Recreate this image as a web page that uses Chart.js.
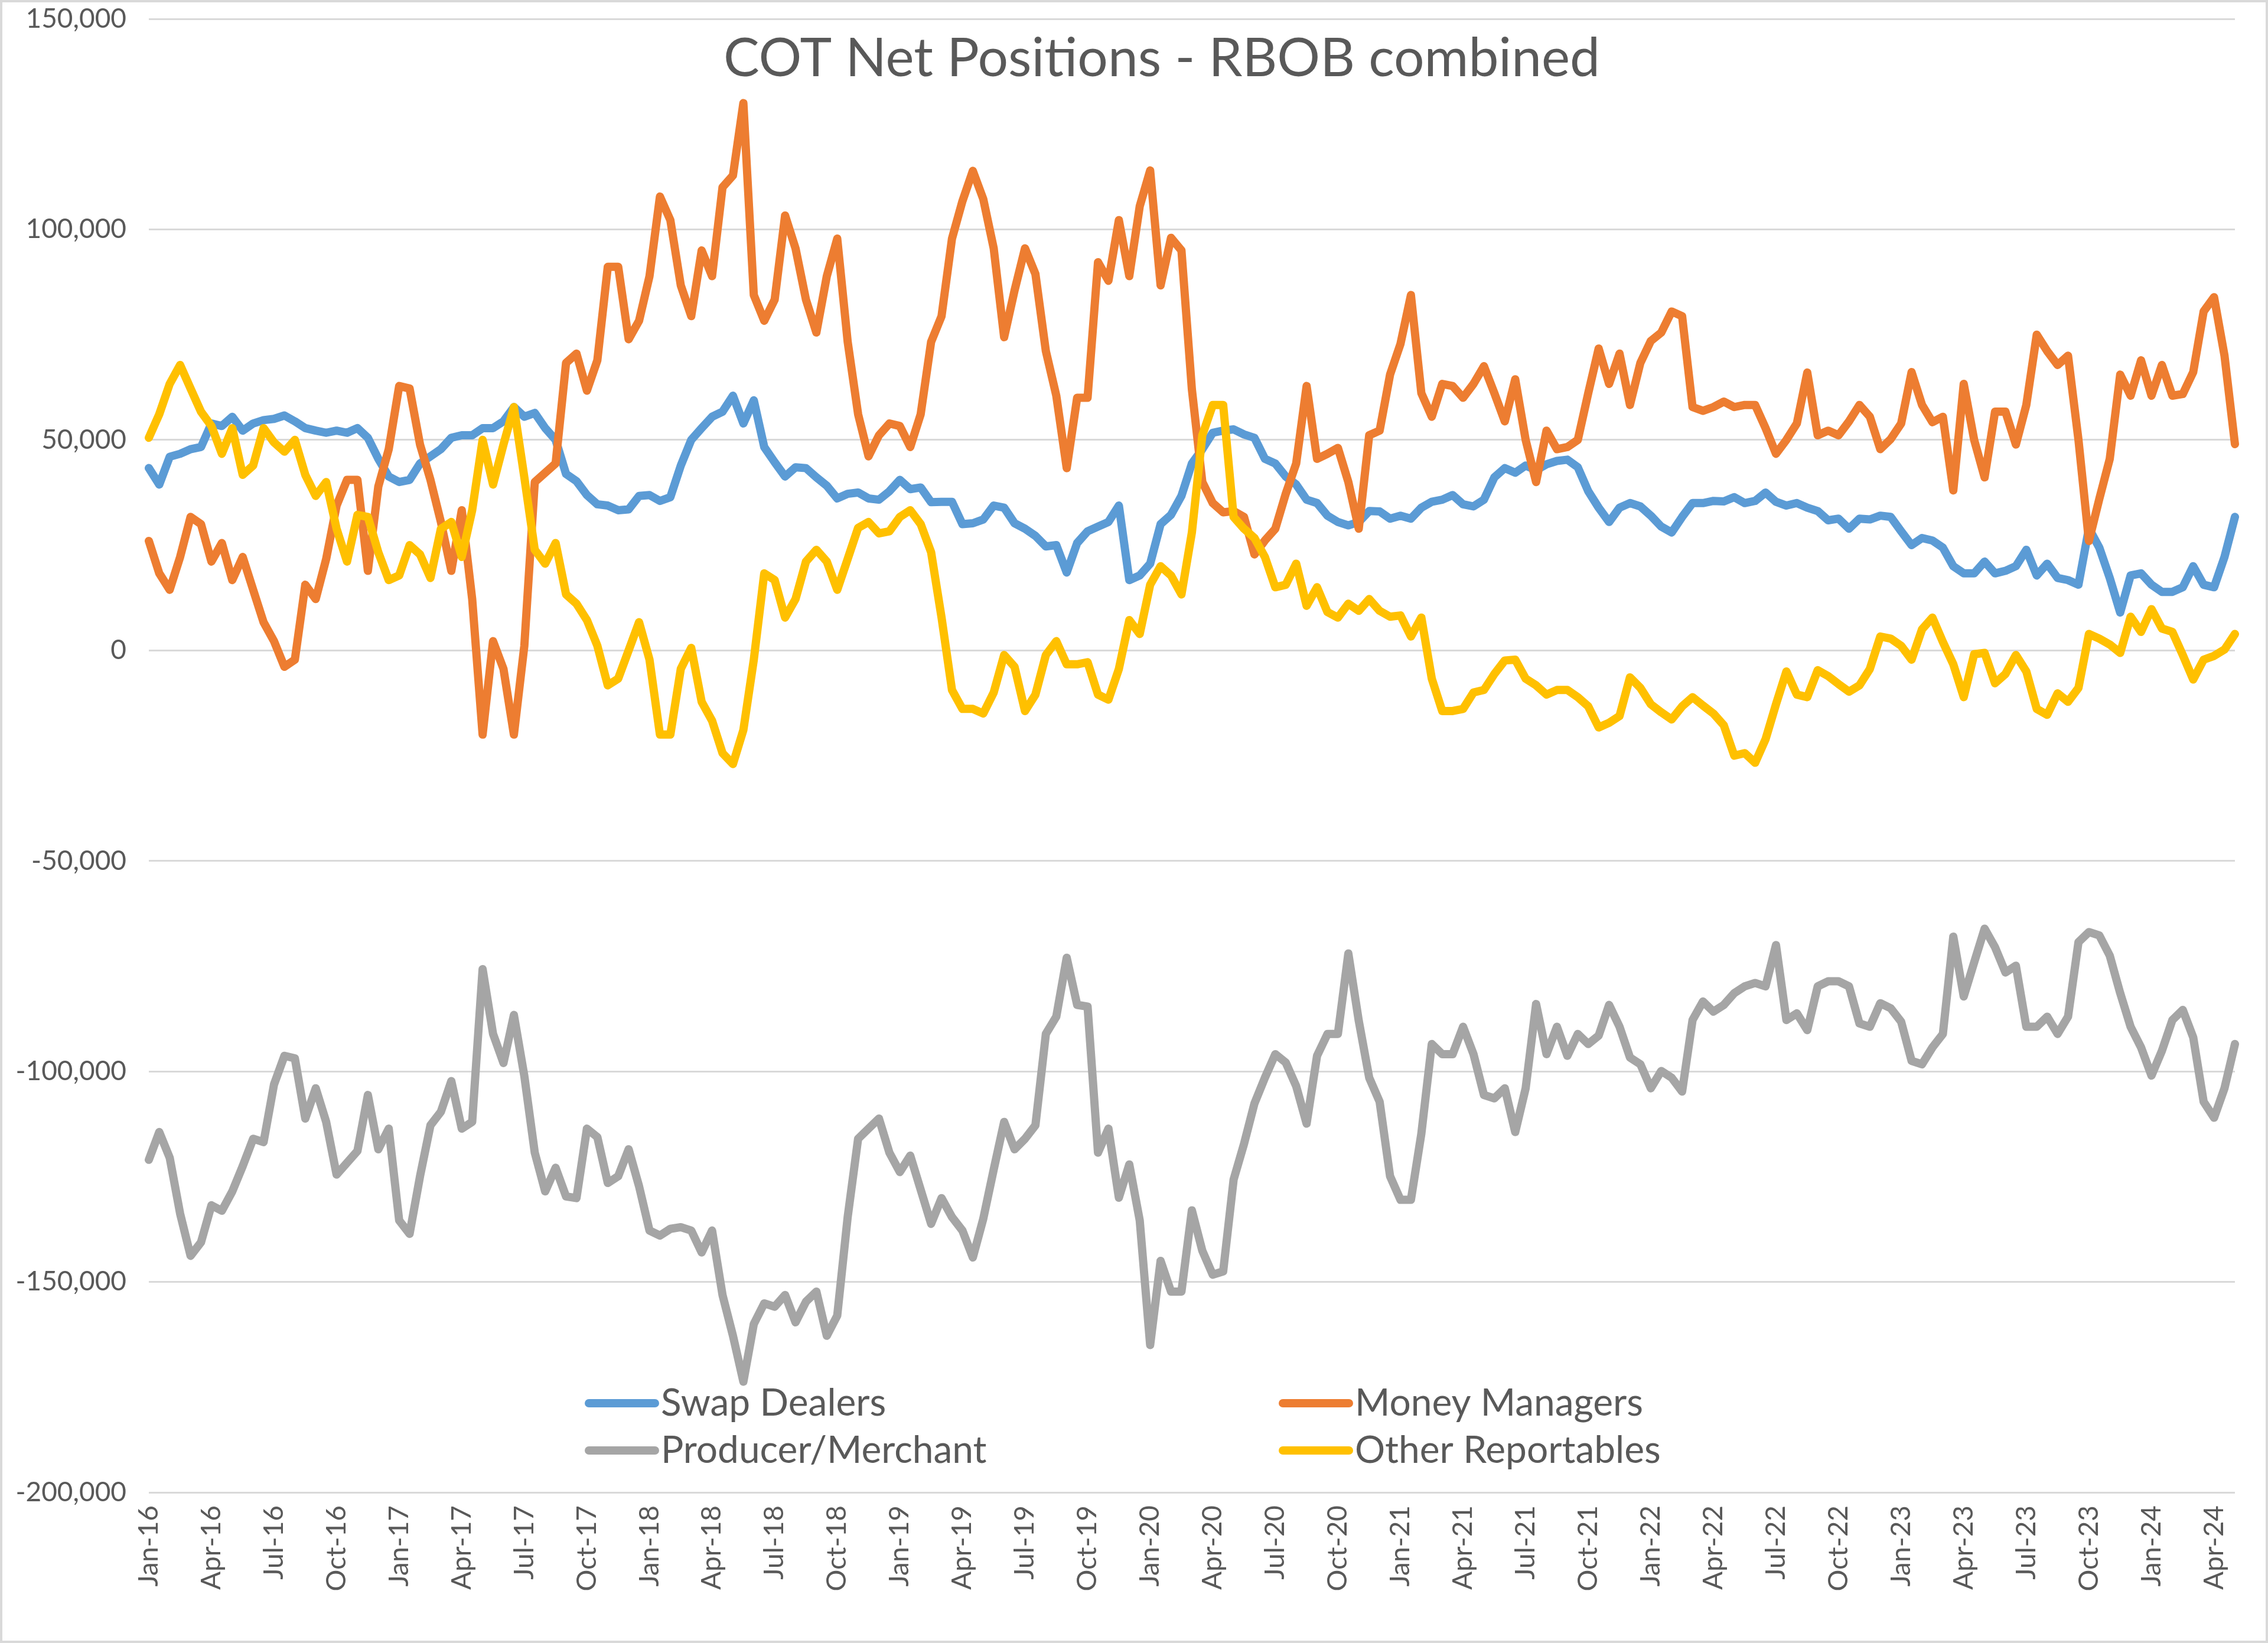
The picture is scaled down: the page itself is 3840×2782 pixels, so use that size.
<!DOCTYPE html>
<html>
<head>
<meta charset="utf-8">
<title>COT Net Positions - RBOB combined</title>
<script src="https://cdn.jsdelivr.net/npm/chart.js@4/dist/chart.umd.min.js"></script>
<style>
  html, body { margin: 0; padding: 0; background: #ffffff; }
  canvas { display: block; }
</style>
</head>
<body>
<canvas id="cotChart" width="3840" height="2782"></canvas>
<script>
// COT net positions, RBOB combined - values in thousands of contracts,
// one reading every half month from Jan-16 to end of May-24
const swapDealers = [
  43.3, 39.4, 46, 46.7, 47.8, 48.3, 53.9, 53.3, 55.5, 52.2, 53.9, 54.7, 55, 55.8, 54.4, 52.8, 52.2, 51.7, 52.2, 51.7,
  52.8, 50.5, 45.5, 41.3, 40, 40.5, 44.4, 46.1, 47.8, 50.5, 51.1, 51.1, 52.8, 52.8, 54.4, 57.8, 55.5, 56.4, 52.8, 50,
  41.9, 40.2, 36.9, 34.7, 34.4, 33.3, 33.5, 36.7, 36.9, 35.5, 36.4, 43.9, 50, 52.8, 55.5, 56.7, 60.5, 53.9, 59.4, 48.3,
  44.7, 41.3, 43.5, 43.3, 41.1, 39.1, 36.1, 37.2, 37.5, 36.1, 35.8, 37.8, 40.5, 38.3, 38.7, 35.2, 35.3, 35.3, 30, 30.2,
  31.1, 34.4, 33.9, 30.2, 28.9, 27.2, 24.7, 25, 18.5, 25.5, 28.3, 29.4, 30.5, 34.4, 16.7, 17.8, 20.6, 30, 32.2, 36.7,
  44.4, 47.8, 51.7, 52.2, 52.5, 51.3, 50.5, 45.5, 44.4, 41.3, 39.4, 35.8, 35, 32, 30.5, 29.7, 30.5, 33.1, 33, 31.3,
  32, 31.3, 33.9, 35.3, 35.8, 36.9, 34.7, 34.2, 35.8, 41.1, 43.3, 42.2, 43.9, 42.8, 44.2, 45, 45.3, 43.5, 37.8, 33.9,
  30.5, 33.9, 35, 34.2, 32, 29.4, 28, 31.7, 35, 35, 35.5, 35.4, 36.4, 35, 35.5, 37.5, 35.3, 34.4, 35, 33.9,
  33.1, 30.9, 31.3, 28.9, 31.3, 31.1, 32, 31.7, 28.3, 25, 26.7, 26.1, 24.4, 20, 18.3, 18.3, 21.1, 18.3, 18.9, 20,
  23.9, 17.8, 20.6, 17.2, 16.7, 15.6, 29, 24.4, 17.2, 9, 17.8, 18.3, 15.6, 13.9, 13.9, 15, 20, 15.6, 15, 22.2,
  31.7
];
const moneyManagers = [
  26, 18.3, 14.4, 22.2, 31.7, 30, 21.1, 25.5, 16.7, 22.2, 14.4, 6.7, 2.2, -3.9, -2.2, 15.6, 12.2, 21.7, 34.4, 40.5,
  40.5, 18.9, 38.9, 47.8, 62.8, 62.2, 48.9, 40.5, 30.5, 18.9, 33.3, 12.2, -20, 2.2, -4.4, -20, 1.1, 40, 42.2, 44.4,
  68.3, 70.5, 61.7, 68.9, 91.1, 91.1, 73.9, 78.3, 88.9, 107.8, 102.2, 86.7, 79.4, 95, 88.9, 110, 112.8, 130, 84.4, 78.3,
  83.3, 103.3, 95.5, 83.3, 75.5, 88.9, 97.8, 73.3, 56.1, 46.1, 51.1, 53.9, 53.3, 48.3, 56.1, 73.3, 79.4, 97.8, 106.7, 113.9,
  107.2, 95.5, 74.4, 85.5, 95.5, 89.4, 71.1, 60.5, 43.3, 60, 60, 92.2, 87.8, 102.2, 88.9, 105.5, 114, 86.7, 98, 95,
  62, 40, 35, 32.8, 33.1, 31.7, 22.8, 26.1, 28.9, 37.2, 44.4, 62.8, 45.5, 46.7, 48.1, 40, 28.9, 51.1, 52.2, 65.5,
  72.8, 84.4, 61.1, 55.5, 63.3, 62.8, 60, 63.3, 67.5, 61.1, 54.4, 64.4, 50, 40, 52.2, 47.8, 48.3, 50, 61.1, 71.7,
  63.3, 70.5, 58.3, 68.3, 73.5, 75.5, 80.5, 79.4, 57.8, 56.9, 57.8, 59.1, 57.8, 58.3, 58.3, 52.8, 46.7, 50, 53.9, 66,
  51.1, 52.2, 51.1, 54.4, 58.3, 55.5, 47.8, 50.2, 53.9, 66.1, 58.3, 54.2, 55.5, 38, 63.3, 50, 41.1, 56.7, 56.7, 48.9,
  58.3, 75, 71.1, 67.8, 70, 50, 26, 36, 45.5, 65.5, 60.5, 68.9, 60.5, 67.8, 60.5, 60.9, 66.1, 80.5, 83.9, 70,
  49
];
const producerMerchant = [
  -121, -114.4, -120.5, -133.8, -143.8, -140.6, -131.8, -133.1, -128.5, -122.5, -116, -116.8, -103.1, -96.3, -96.9, -111.2, -104, -112, -124.5, -121.7,
  -118.9, -105.6, -118.5, -113.6, -135.4, -138.6, -124.9, -112.8, -109.6, -102.3, -113.6, -112, -75.7, -91.1, -98, -86.6, -101.1, -119.3, -128.5, -122.9,
  -129.7, -130.1, -113.6, -115.6, -126.5, -124.9, -118.5, -127.3, -137.8, -139, -137.4, -137, -137.8, -143, -137.8, -153.1, -162.8, -173.7, -160, -155.1,
  -155.9, -153.1, -159.6, -154.7, -152.3, -162.8, -158, -134.6, -116, -113.6, -111.2, -119.3, -123.9, -120, -128.1, -136.2, -130.1, -134.6, -137.8, -144.2,
  -135, -123.3, -112, -118.5, -116, -112.8, -91.1, -87, -73, -84.2, -84.6, -119.3, -113.6, -130, -122.1, -135.4, -165, -145, -152.3, -152.3,
  -133, -142.6, -148.3, -147.5, -125.7, -117.2, -107.6, -101.5, -95.9, -97.9, -103.5, -112.4, -96.3, -91.1, -91.1, -72, -88, -101.5, -107.2, -124.9,
  -130.5, -130.5, -114.8, -93.5, -95.9, -95.9, -89.4, -95.9, -105.6, -106.4, -104, -114.4, -104, -84, -95.9, -89.4, -96.3, -91.1, -93.5, -91.5,
  -84.2, -89.4, -96.7, -98.3, -104, -99.9, -101.5, -104.8, -87.8, -83.4, -85.8, -84.2, -81.4, -79.8, -79, -79.8, -70, -87.8, -86.2, -90.2,
  -79.8, -78.6, -78.6, -79.8, -88.6, -89.4, -83.8, -85, -88.2, -97.5, -98.3, -94.3, -91.1, -68, -82.2, -74.1, -66.1, -70.5, -76.5, -74.9,
  -89.4, -89.4, -87, -91.1, -87, -69.3, -66.9, -67.7, -72.5, -81.4, -89.4, -94.3, -101, -95.1, -87.8, -85.4, -91.9, -107.2, -111, -104,
  -93.5
];
const otherReportables = [
  50.5, 56.1, 63.3, 67.8, 62.2, 56.7, 53.3, 46.7, 52.8, 41.7, 43.9, 52.8, 49.4, 47.2, 50, 41.7, 36.7, 40, 28.9, 21.1,
  32.2, 31.7, 23.3, 16.7, 17.8, 25, 22.8, 17.2, 28.9, 30.5, 22.2, 33.3, 50, 39.4, 48.9, 57.8, 41.1, 23.9, 20.6, 25.5,
  13.3, 11.1, 7.2, 1.1, -8.3, -6.7, 0, 6.7, -2.2, -20, -20, -4.4, 0.6, -12.2, -16.7, -24.4, -27, -18.9, -2.2, 18.3,
  16.7, 7.8, 12.2, 21.1, 23.9, 21.1, 14.4, 21.7, 29.1, 30.5, 27.8, 28.3, 31.7, 33.3, 30, 23.3, 7.8, -9.4, -13.9, -13.9,
  -15, -10, -1.1, -3.9, -14.4, -10.5, -1.1, 2.2, -3.3, -3.3, -2.8, -10.5, -11.7, -4.4, 7.2, 3.9, 15.6, 20, 17.8, 13.3,
  28, 51.1, 58.3, 58.3, 31.7, 28.9, 26.7, 22.2, 15, 15.6, 20.6, 10.6, 15, 9.1, 7.8, 11.1, 9.4, 12.2, 9.4, 8,
  8.3, 3.3, 7.8, -6.7, -14.4, -14.4, -13.9, -10, -9.4, -5.6, -2.4, -2.2, -6.7, -8.3, -10.5, -9.4, -9.4, -11.1, -13.3, -18.3,
  -17.2, -15.6, -6.4, -8.9, -12.8, -14.7, -16.4, -13.3, -11.1, -13.1, -15, -17.8, -25, -24.4, -26.7, -21.1, -12.8, -5, -10.5, -11.1,
  -4.7, -6.1, -8, -9.8, -8.3, -4.4, 3.3, 2.8, 1.1, -2.2, 5, 7.8, 2, -3.3, -11.1, -0.9, -0.6, -7.8, -5.6, -1.1,
  -5, -13.9, -15.3, -10.2, -12.2, -8.9, 3.9, 2.8, 1.4, -0.6, 8, 4.4, 9.8, 5.2, 4.4, -1.1, -6.9, -2.2, -1.3, 0.2,
  3.9
];

// quarterly axis labels, one every 6 half-month readings
const tickLabels = [
  'Jan-16', 'Apr-16', 'Jul-16', 'Oct-16', 'Jan-17', 'Apr-17', 'Jul-17', 'Oct-17', 'Jan-18', 'Apr-18', 'Jul-18', 'Oct-18',
  'Jan-19', 'Apr-19', 'Jul-19', 'Oct-19', 'Jan-20', 'Apr-20', 'Jul-20', 'Oct-20', 'Jan-21', 'Apr-21', 'Jul-21', 'Oct-21',
  'Jan-22', 'Apr-22', 'Jul-22', 'Oct-22', 'Jan-23', 'Apr-23', 'Jul-23', 'Oct-23', 'Jan-24', 'Apr-24'
];
const seriesNames = ['Swap Dealers', 'Money Managers', 'Producer/Merchant', 'Other Reportables'];
const seriesColors = ['#5b9bd5', '#ed7d31', '#a5a5a5', '#ffc000'];

// half-month periods: 1st and 16th of each month
const periods = swapDealers.map((_, i) => {
    const month = Math.floor(i / 2);
    const d = new Date(2016, month, i % 2 === 0 ? 1 : 16);
    return d.toISOString().slice(0, 10);
});

const W = 3840, H = 2782;
const plotBox = { left: 252, right: 3784, top: 32, bottom: 2527 };
const textColor = '#595959';
const fontFamily = 'Lato, "Open Sans", sans-serif';
const lineWidth = 14;

// title, legend and outer frame drawn on the canvas like the Excel chart
const excelFrame = {
    id: 'excelFrame',
    beforeDraw(chart) {
        const ctx = chart.ctx;
        ctx.save();
        ctx.fillStyle = '#ffffff';
        ctx.fillRect(0, 0, W, H);
        ctx.restore();
    },
    afterDraw(chart) {
        const ctx = chart.ctx;
        ctx.save();

        // chart border
        ctx.strokeStyle = '#d9d9d9';
        ctx.lineWidth = 4;
        ctx.strokeRect(2, 2, W - 4, H - 4);

        // title
        ctx.fillStyle = textColor;
        ctx.font = '91px ' + fontFamily;
        ctx.textAlign = 'center';
        ctx.textBaseline = 'middle';
        ctx.fillText('COT Net Positions - RBOB combined', 1967, 100);

        // legend, two columns
        const spots = [
            { x: 997, y: 2376 }, { x: 2172, y: 2376 },
            { x: 997, y: 2456 }, { x: 2172, y: 2456 }
        ];
        ctx.font = '64px ' + fontFamily;
        ctx.textAlign = 'left';
        chart.data.datasets.forEach((ds, i) => {
            const p = spots[i];
            ctx.strokeStyle = ds.borderColor;
            ctx.lineWidth = lineWidth;
            ctx.lineCap = 'round';
            ctx.beginPath();
            ctx.moveTo(p.x, p.y);
            ctx.lineTo(p.x + 112, p.y);
            ctx.stroke();
            ctx.fillStyle = textColor;
            ctx.fillText(ds.label, p.x + 122, p.y);
        });
        ctx.restore();
    }
};

const allSeries = [swapDealers, moneyManagers, producerMerchant, otherReportables];
// later series sit on top, as in the source chart
const drawOrder = [3, 2, 1, 0];

new Chart(document.getElementById('cotChart'), {
    type: 'line',
    data: {
        labels: periods,
        datasets: allSeries.map((values, i) => ({
            label: seriesNames[i],
            data: values.map(v => v * 1000),
            borderColor: seriesColors[i],
            backgroundColor: seriesColors[i],
            borderWidth: lineWidth,
            borderJoinStyle: 'round',
            borderCapStyle: 'round',
            pointRadius: 0,
            tension: 0,
            order: drawOrder[i]
        }))
    },
    options: {
        responsive: false,
        animation: false,
        devicePixelRatio: 1,
        layout: { padding: { top: plotBox.top, right: W - plotBox.right, bottom: 0, left: 0 } },
        plugins: {
            legend: { display: false },
            title: { display: false },
            tooltip: { enabled: false }
        },
        scales: {
            x: {
                type: 'category',
                offset: false,
                grid: { display: false },
                border: { display: false },
                ticks: {
                    autoSkip: false,
                    minRotation: 90,
                    maxRotation: 90,
                    padding: 14,
                    color: textColor,
                    font: { family: fontFamily, size: 46 },
                    callback: (value, index) => index % 6 === 0 ? (tickLabels[index / 6] || '') : ''
                },
                afterFit(scale) {
                    scale.height = H - plotBox.bottom;
                    scale.paddingLeft = 0;
                    scale.paddingRight = 0;
                }
            },
            y: {
                min: -200000,
                max: 150000,
                grid: { color: '#d9d9d9', lineWidth: 3, drawTicks: false },
                border: { display: false },
                ticks: {
                    stepSize: 50000,
                    padding: 38,
                    color: textColor,
                    font: { family: fontFamily, size: 46 },
                    callback: v => v.toLocaleString('en-US')
                },
                afterFit(scale) {
                    scale.width = plotBox.left;
                    scale.paddingTop = 0;
                    scale.paddingBottom = 0;
                }
            }
        }
    },
    plugins: [excelFrame]
});
</script>
</body>
</html>
